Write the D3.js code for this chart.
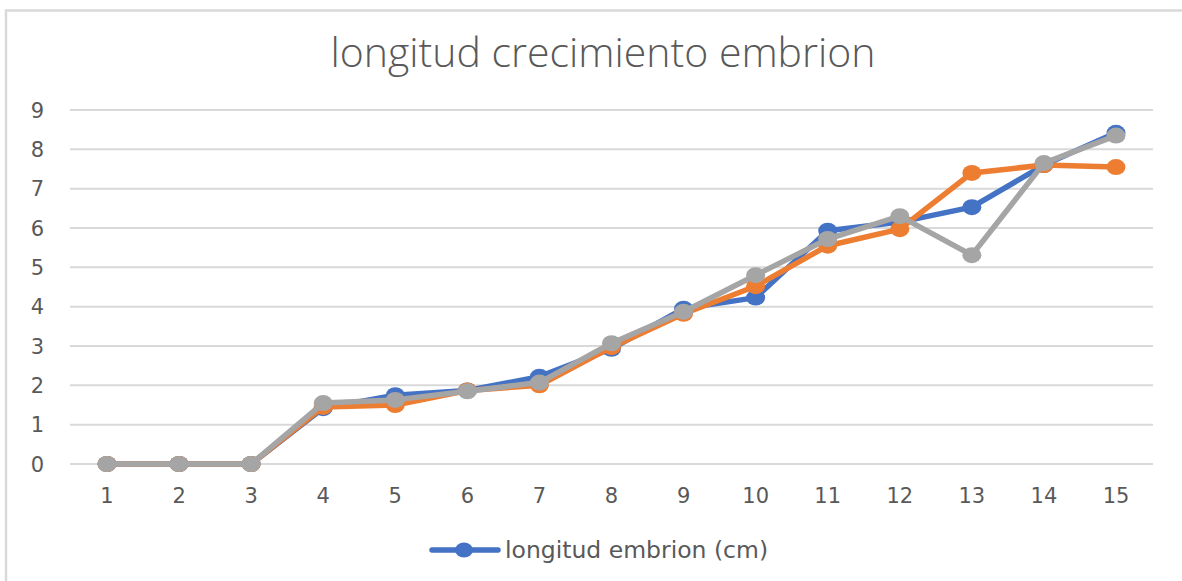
<!DOCTYPE html>
<html><head><meta charset="utf-8">
<script src="https://cdn.jsdelivr.net/npm/d3@7"></script>
<style>body{margin:0;background:#fff}svg{display:block}</style>
</head><body>
<svg id="c" width="1182" height="581"></svg>
<script>
const categories = [1,2,3,4,5,6,7,8,9,10,11,12,13,14,15];
const blueValues   = [0,0,0,1.42,1.75,1.87,2.22,2.93,3.95,4.23,5.93,6.15,6.53,7.6,8.42];
const orangeValues = [0,0,0,1.45,1.5,1.87,2.0,2.97,3.82,4.52,5.55,5.97,7.4,7.6,7.55];
const grayValues   = [0,0,0,1.55,1.63,1.85,2.07,3.07,3.87,4.8,5.72,6.3,5.31,7.65,8.35];
const yTicks = [0,1,2,3,4,5,6,7,8,9];
const title = "longitud crecimiento embrion";
const legendLabel = "longitud embrion (cm)";

const svg = d3.select("#c");
svg.append("rect").attr("x",6).attr("y",10.5).attr("width",1200).attr("height",600)
  .attr("fill","#fff").attr("stroke","#d9d9d9").attr("stroke-width",2.5);

const x = d3.scalePoint().domain(categories).range([107,1116]);
const y = d3.scaleLinear().domain([0,9]).range([464,110]);

// gridlines
svg.append("g").selectAll("line").data(yTicks).join("line")
  .attr("x1",70).attr("x2",1153)
  .attr("y1",d=>y(d)).attr("y2",d=>y(d))
  .attr("stroke","#d9d9d9").attr("stroke-width",2);

const tickFont = "DejaVu Sans, sans-serif";
// y labels
svg.append("g").selectAll("text").data(yTicks).join("text")
  .attr("x",44).attr("y",d=>y(d)+7.5)
  .attr("text-anchor","end")
  .attr("font-family",tickFont).attr("font-size",21)
  .attr("fill","#595959").text(d=>d);

// x labels
svg.append("g").selectAll("text").data(categories).join("text")
  .attr("x",d=>x(d)).attr("y",503)
  .attr("text-anchor","middle")
  .attr("font-family",tickFont).attr("font-size",21)
  .attr("fill","#595959").text(d=>d);

// title
svg.append("text").attr("x",603).attr("y",67)
  .attr("text-anchor","middle")
  .attr("font-family","Open Sans, sans-serif").attr("font-size",41).attr("font-weight",300)
  .attr("fill","#595959").text(title);

const series = [
  {vals: blueValues, color:"#4472C4"},
  {vals: orangeValues, color:"#ED7D31"},
  {vals: grayValues, color:"#A5A5A5"}
];
const line = d3.line().x((d,i)=>x(categories[i])).y(d=>y(d));
series.forEach(s=>{
  const g = svg.append("g");
  g.append("path").datum(s.vals).attr("d",line).attr("fill","none")
    .attr("stroke",s.color).attr("stroke-width",5.5).attr("stroke-linejoin","round").attr("stroke-linecap","round");
  g.selectAll("ellipse").data(s.vals).join("ellipse")
    .attr("cx",(d,i)=>x(categories[i])).attr("cy",d=>y(d)).attr("rx",9.5).attr("ry",8)
    .attr("fill",s.color);
});

// legend
const lg = svg.append("g");
lg.append("line").attr("x1",432).attr("x2",498).attr("y1",550).attr("y2",550)
  .attr("stroke","#4472C4").attr("stroke-width",5.5).attr("stroke-linecap","round");
lg.append("ellipse").attr("cx",464).attr("cy",550).attr("rx",9).attr("ry",7.5).attr("fill","#4472C4");
lg.append("text").attr("x",505).attr("y",558)
  .attr("font-family",tickFont).attr("font-size",23.5)
  .attr("fill","#595959").text(legendLabel);
</script>
</body></html>
